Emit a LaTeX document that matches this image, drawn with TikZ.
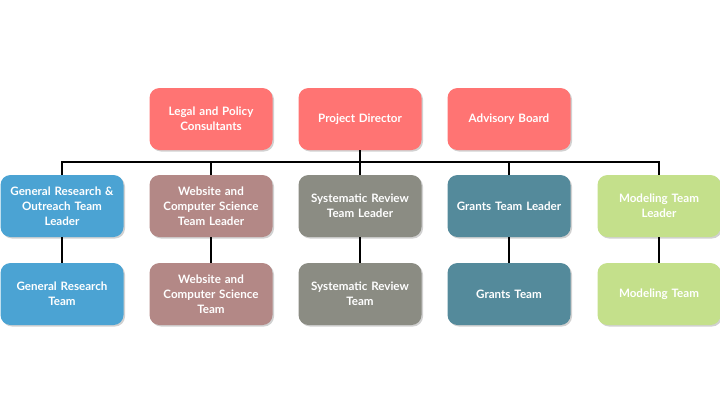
\documentclass[tikz,border=0pt]{standalone}
\usepackage{fontspec}
\setmainfont{Lato}
\usetikzlibrary{shadows}
\definecolor{cred}{HTML}{FF7473}
\definecolor{cblue}{HTML}{4BA3D3}
\definecolor{cmauve}{HTML}{B38886}
\definecolor{cgrey}{HTML}{8B8C83}
\definecolor{cteal}{HTML}{548A9B}
\definecolor{cgreen}{HTML}{C4E08B}
\tikzset{
  box/.style={rectangle, rounded corners=10pt, minimum width=123pt, minimum height=62pt,
    text width=120pt, align=center, text=white, font=\fontsize{11.6}{15}\selectfont\bfseries,
    inner sep=0pt, drop shadow={shadow xshift=1.5pt, shadow yshift=-1.5pt, opacity=0.3, fill=black!60}},
  conn/.style={line width=1.8pt, black}
}
\begin{document}
\begin{tikzpicture}[x=1pt,y=-1pt]
\useasboundingbox (0,0) rectangle (720,405);
\node[box, fill=cred] (legal) at (211,119) {Legal and Policy\\Consultants};
\node[box, fill=cred] (pd) at (360,119) {Project Director};
\node[box, fill=cred] (adv) at (509,119) {Advisory Board};
\node[box, fill=cblue] (gl) at (62,206) {General Research \&\\Outreach Team\\Leader};
\node[box, fill=cmauve] (wl) at (211,206) {Website and\\Computer Science\\Team Leader};
\node[box, fill=cgrey] (sl) at (360,206) {Systematic Review\\Team Leader};
\node[box, fill=cteal] (grl) at (509,206) {Grants Team Leader};
\node[box, fill=cgreen] (ml) at (659,206) {Modeling Team\\Leader};
\node[box, fill=cblue] (gt) at (62,294) {General Research\\Team};
\node[box, fill=cmauve] (wt) at (211,294) {Website and\\Computer Science\\Team};
\node[box, fill=cgrey] (st) at (360,294) {Systematic Review\\Team};
\node[box, fill=cteal] (grt) at (509,294) {Grants Team};
\node[box, fill=cgreen] (mt) at (659,294) {Modeling Team};
\coordinate (bus) at (360,162);
\draw[conn] (pd.south) -- (sl.north);
\draw[conn] (gl.north) |- (bus) -| (ml.north);
\draw[conn] (wl.north) -- (wl.north |- bus);
\draw[conn] (grl.north) -- (grl.north |- bus);
\foreach \a/\b in {gl/gt, wl/wt, sl/st, grl/grt, ml/mt}
  \draw[conn] (\a.south) -- (\b.north);
\end{tikzpicture}
\end{document}
